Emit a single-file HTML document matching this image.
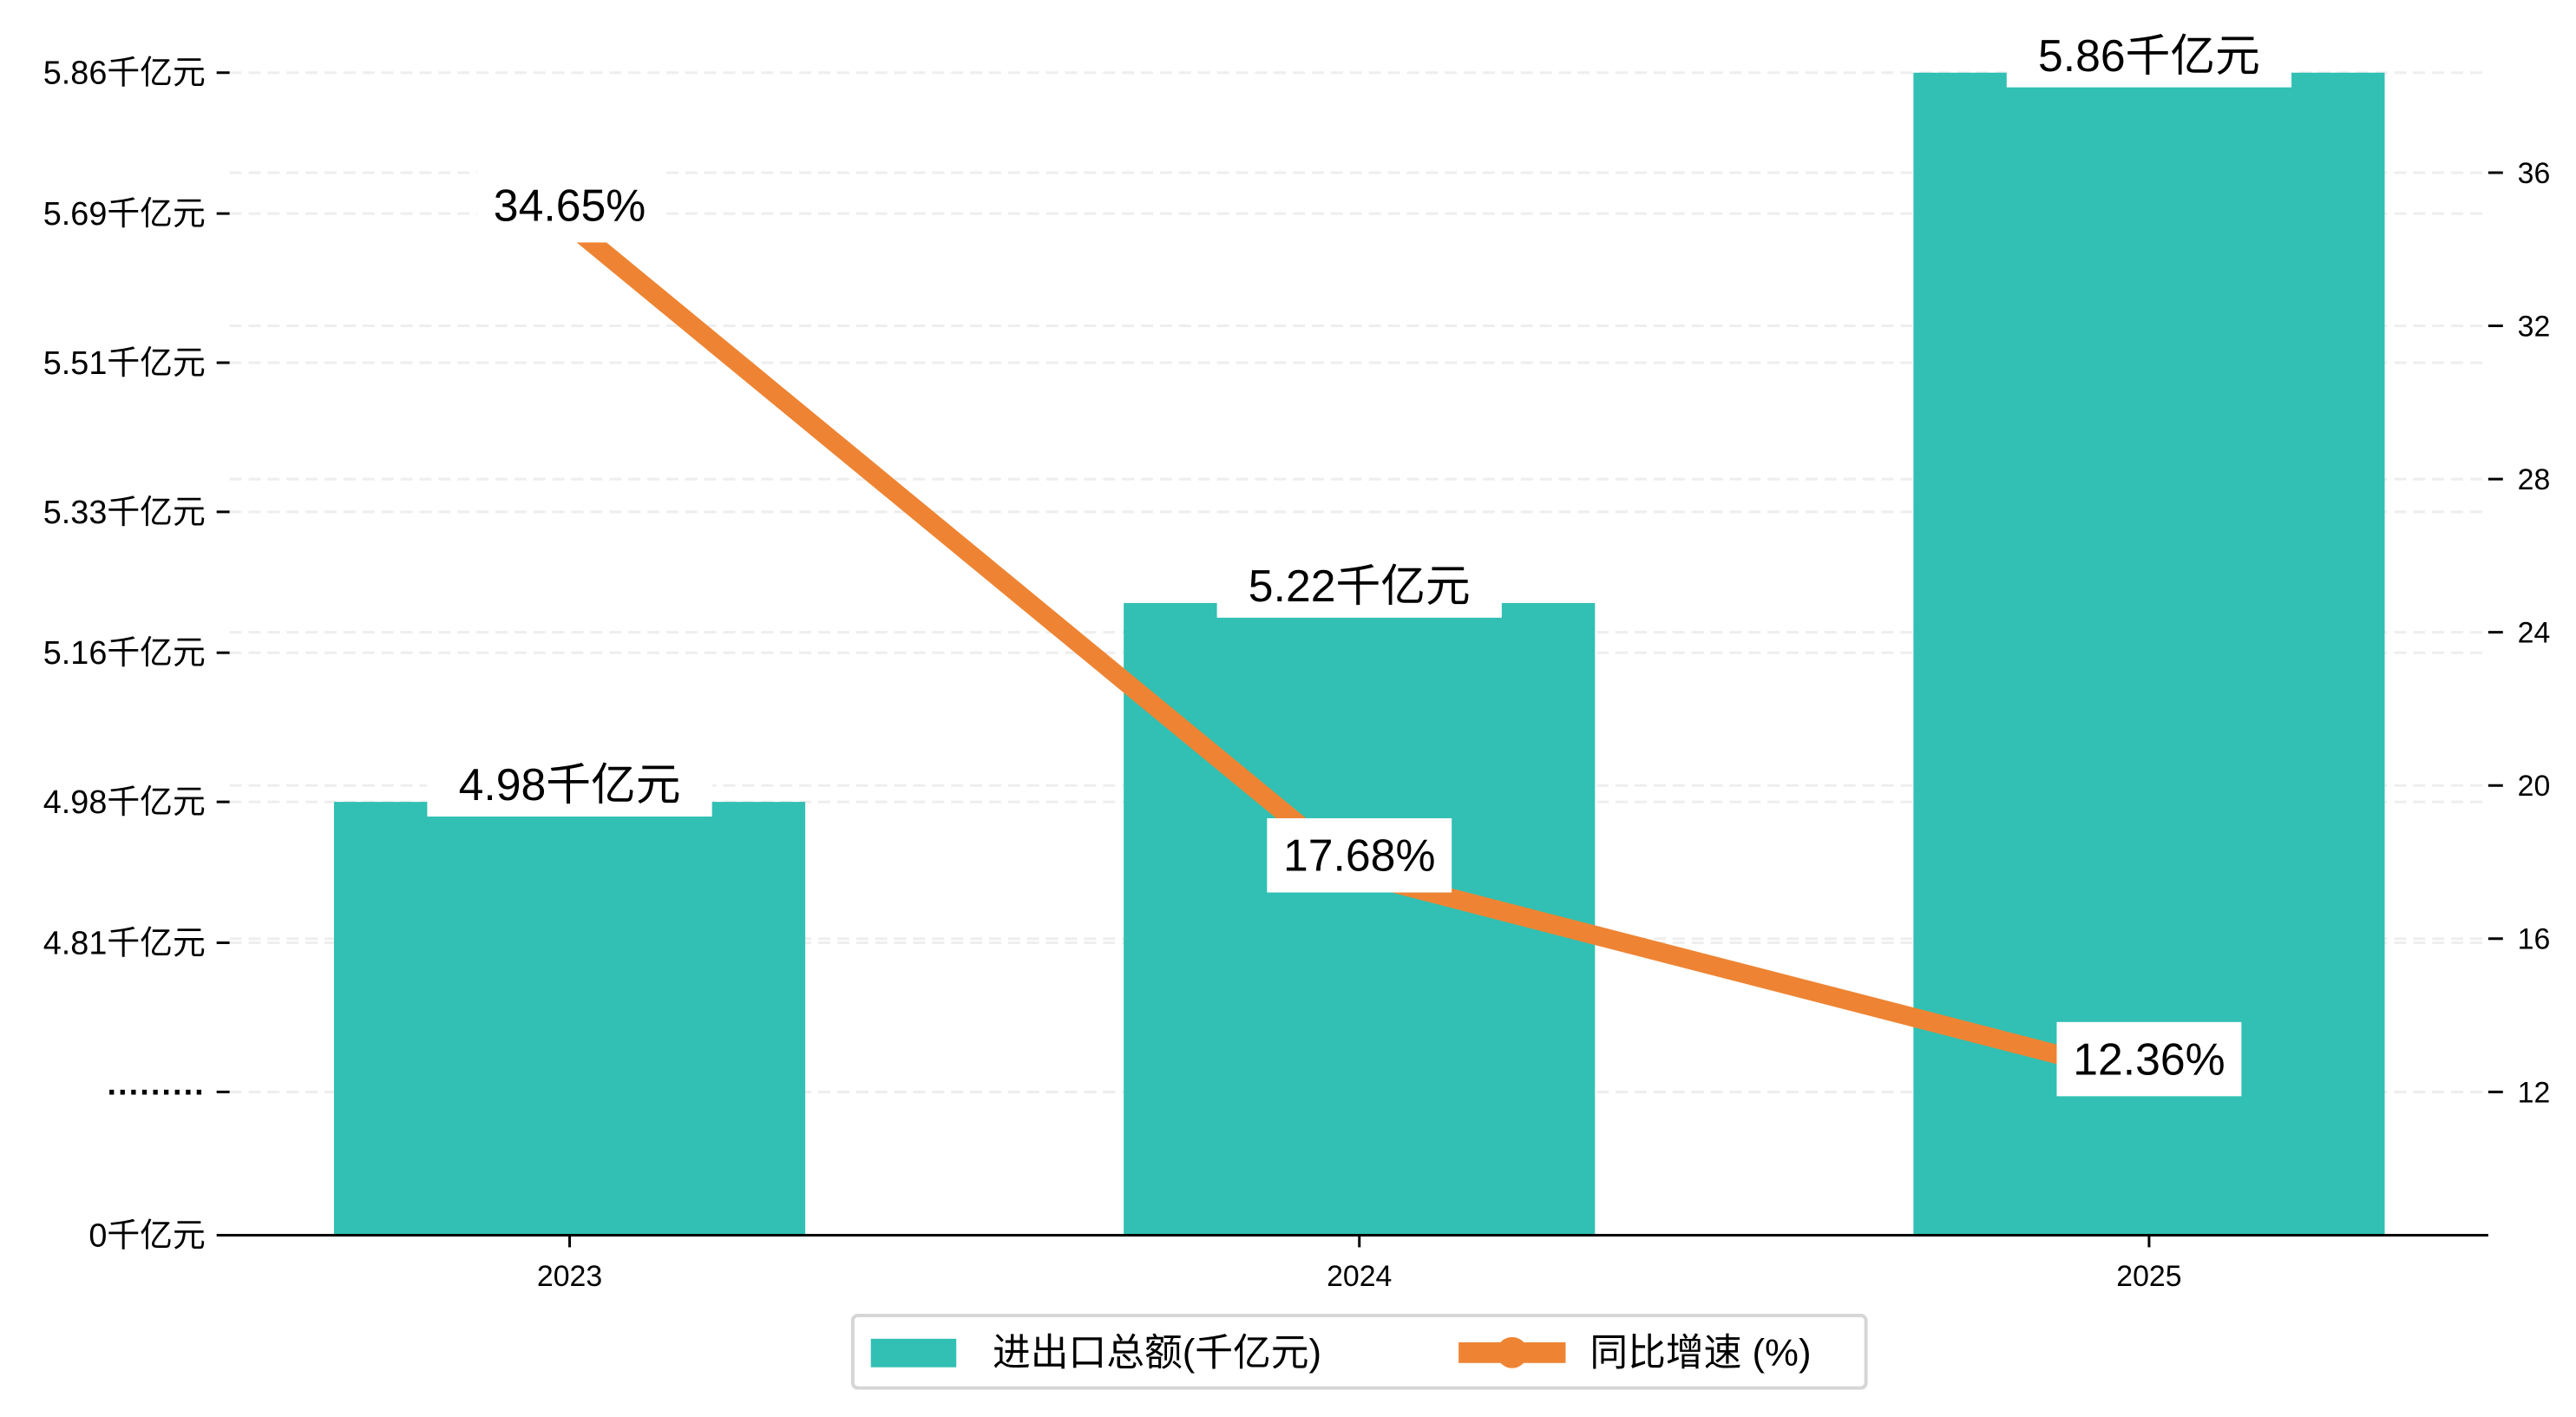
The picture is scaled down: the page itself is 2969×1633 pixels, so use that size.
<!DOCTYPE html>
<html><head><meta charset="utf-8"><style>
html,body{margin:0;padding:0;background:#fff;}
svg{display:block;font-family:"Liberation Sans","WenQuanYi Zen Hei",sans-serif;}
</style></head><body>
<svg id="chart" width="2969" height="1633" viewBox="0 0 2969 1633" xmlns="http://www.w3.org/2000/svg">
<g transform="scale(0.99475)">
<g id="grid"></g>
<g id="bars"></g>
<g id="line"></g>
<g id="axes"></g>
<g id="labels"></g>
<g>
  <rect x="988" y="1524" width="1174" height="84" rx="6" fill="#fff" stroke="#d6d6d6" stroke-width="4"/>
  <rect x="1009" y="1551" width="99" height="33" fill="#31c0b3"/>
  <text x="1150" y="1582" font-size="44">进出口总额(千亿元)</text>
  <line x1="1690" y1="1567" x2="1814" y2="1567" stroke="#ee8433" stroke-width="24"/>
  <circle cx="1752" cy="1567" r="18" fill="#ee8433"/>
  <text x="1842" y="1582" font-size="44">同比增速 (%)</text>
</g>
</g>
</svg>
<script>
const years = ['2023','2024','2025'];
const totals = [4.98, 5.22, 5.86];
const growth = [34.65, 17.68, 12.36];
const leftTickLabels = ['0千亿元','·········','4.81千亿元','4.98千亿元','5.16千亿元','5.33千亿元','5.51千亿元','5.69千亿元','5.86千亿元'];
const leftTickValues = [0, 4.63, 4.81, 4.98, 5.16, 5.33, 5.51, 5.69, 5.86];
const rightTicks = [12, 16, 20, 24, 28, 32, 36];

const NS='http://www.w3.org/2000/svg';
function mk(tag, attrs, parent, text){const e=document.createElementNS(NS,tag);for(const k in attrs)e.setAttribute(k,attrs[k]);if(text!==undefined)e.textContent=text;parent.appendChild(e);return e;}
const X0=266, X1=2883, BASE=1431;
function xPos(i){return 660+i*915;}
function yL(v){return v<=0?BASE:929-(v-4.98)*960;}
function yR(v){return 1265-(v-12)*44.375;}
const grid=document.getElementById('grid'), bars=document.getElementById('bars'), line=document.getElementById('line'), axes=document.getElementById('axes'), labels=document.getElementById('labels');

leftTickValues.forEach((v,i)=>{
  const y=yL(v);
  if(i>0){const g=mk('line',{x1:X0,x2:X1,y1:y,y2:y,stroke:'#eeeeee','stroke-width':3,'stroke-dasharray':'14 8'},grid);
  
  }
  const t=mk('line',{x1:251,x2:266,y1:y,y2:y,stroke:'#000','stroke-width':3},axes);
  
  
  const l=mk('text',{x:238,y:y+13,'font-size':38,'text-anchor':'end','font-weight':i===1?'bold':'normal'},axes,leftTickLabels[i]);
  
  
});
rightTicks.forEach(v=>{
  const y=yR(v);
  const g=mk('line',{x1:X0,x2:X1,y1:y,y2:y,stroke:'#eeeeee','stroke-width':3,'stroke-dasharray':'14 8'},grid);
  
  
  const t=mk('line',{x1:2883,x2:2900,y1:y,y2:y,stroke:'#000','stroke-width':3},axes);
  
  
  const l=mk('text',{x:2917,y:y+12,'font-size':34},axes,String(v));
  
  
});

totals.forEach((v,i)=>{
  const top=yL(v);
  const b=mk('rect',{x:xPos(i)-273,y:top,width:546,height:BASE-top,fill:'#31c0b3'},bars);
  
  
  const bx=mk('rect',{x:xPos(i)-165,y:top-63,width:330,height:80,fill:'#fff'},labels);
  
  
  const t=mk('text',{x:xPos(i),y:top-2,'font-size':52,'text-anchor':'middle'},labels,v.toFixed(2)+'千亿元');
  
  
});

const pts=growth.map((v,i)=>xPos(i)+','+yR(v)).join(' ');
const pl=mk('polyline',{points:pts,fill:'none',stroke:'#ee8433','stroke-width':22,'stroke-linejoin':'round'},line);


growth.forEach((v,i)=>{
  const y=yR(v)-22;
  const bx=mk('rect',{x:xPos(i)-107,y:y-43,width:214,height:86,fill:'#fff'},labels);
  
  
  const t=mk('text',{x:xPos(i),y:y+18,'font-size':52,'text-anchor':'middle'},labels,v.toFixed(2)+'%');
  
  
});

const ax=mk('line',{x1:X0-10,x2:X1,y1:BASE,y2:BASE,stroke:'#000','stroke-width':3},axes);


years.forEach((yr,i)=>{
  const t=mk('line',{x1:xPos(i),x2:xPos(i),y1:BASE,y2:BASE+14,stroke:'#000','stroke-width':3},axes);
  
  
  const l=mk('text',{x:xPos(i),y:1490,'font-size':34,'text-anchor':'middle'},axes,yr);
  
  
});
</script>
</body></html>
